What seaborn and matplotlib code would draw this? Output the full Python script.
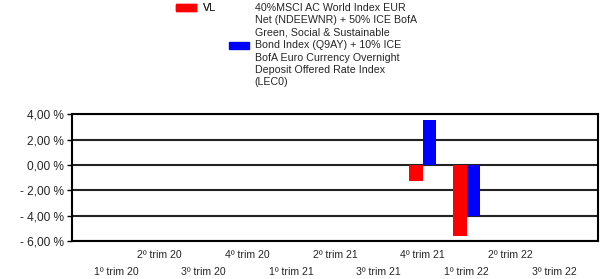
import numpy as np
import pandas as pd
import matplotlib
matplotlib.use('Agg')
import matplotlib.pyplot as plt
from matplotlib.patches import Patch
import seaborn as sns

# data
trimestres = ['1º trim 20', '2º trim 20', '3º trim 20', '4º trim 20',
              '1º trim 21', '2º trim 21', '3º trim 21', '4º trim 21',
              '1º trim 22', '2º trim 22', '3º trim 22']
periodos = ['4º trim 21', '1º trim 22']
vl = [-1.24, -5.61]
indice = [3.57, -4.02]
serie_vl = 'VL'
serie_idx = ('40%MSCI AC World Index EUR\nNet (NDEEWNR) + 50% ICE BofA\n'
             'Green, Social & Sustainable\nBond Index (Q9AY) + 10% ICE\n'
             'BofA Euro Currency Overnight\nDeposit Offered Rate Index\n(LEC0)')
yticks = [-6, -4, -2, 0, 2, 4]

df = pd.DataFrame({
    'trim': periodos + periodos,
    'valor': vl + indice,
    'serie': [serie_vl] * len(vl) + [serie_idx] * len(indice),
})

sns.set_style('white')
plt.rcParams['font.family'] = ['Liberation Sans', 'DejaVu Sans']

fig = plt.figure(figsize=(6, 2.79), dpi=100)
ax = fig.add_axes([0.12, 0.136, 0.8767, 0.455])

sns.barplot(data=df, x='trim', y='valor', hue='serie', order=trimestres,
            hue_order=[serie_vl, serie_idx], palette=['#ff0000', '#0000ff'],
            width=0.62, saturation=1, errorbar=None, legend=False,
            linewidth=0, ax=ax)

ax.set_xlim(-1, len(trimestres))
ax.set_ylim(-6, 4)
ax.set_yticks(yticks)
ax.set_yticklabels([('- ' if v < 0 else '') + f'{abs(v):.2f}'.replace('.', ',') + ' %' for v in yticks],
                   fontsize=8.6)
ax.set_axisbelow(True)
ax.yaxis.grid(True, color='#222222', linewidth=1.5)
ax.tick_params(axis='y', left=True, length=3.6, width=1, pad=2.2, color='black')
ax.set_xticks(range(len(trimestres)))
ax.set_xticklabels(trimestres, fontsize=7.6)
ax.tick_params(axis='x', bottom=False, length=0)
for i, t in enumerate(ax.xaxis.get_major_ticks()):
    t.set_pad(19 if i % 2 == 0 else 6.5)
ax.set_xlabel('')
ax.set_ylabel('')
for s in ax.spines.values():
    s.set_color('black')
    s.set_linewidth(1.5)

leg1 = fig.legend(handles=[Patch(color='#ff0000')], labels=[serie_vl],
                  loc='upper left', bbox_to_anchor=(176 / 600, 1 - 3 / 279),
                  frameon=False, fontsize=7.7, borderpad=0, borderaxespad=0,
                  handlelength=1.9, handleheight=0.6, handletextpad=0.6)
leg2 = fig.legend(handles=[Patch(color='#0000ff')], labels=[serie_idx],
                  loc='upper left', bbox_to_anchor=(229 / 600, 1 - 3 / 279),
                  frameon=False, fontsize=7.7, borderpad=0, borderaxespad=0,
                  handlelength=1.9, handleheight=0.6, handletextpad=0.5)
for t in leg2.get_texts():
    t.set_linespacing(1.3)
fig.add_artist(leg1)

fig.savefig('out.png', dpi=100)
